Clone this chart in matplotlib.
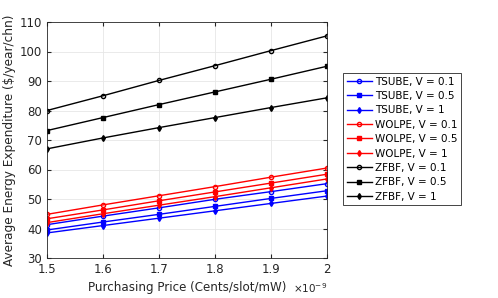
import matplotlib
matplotlib.use("Agg")
import matplotlib.pyplot as plt
import numpy as np

# Purchasing price (x 1e-9)
price = np.array([1.5, 1.6, 1.7, 1.8, 1.9, 2.0])

tsube_01 = [41.3, 44.2, 47.0, 49.9, 52.5, 55.2]
tsube_05 = [39.5, 42.2, 44.8, 47.5, 50.2, 52.8]
tsube_1 = [38.5, 41.0, 43.5, 46.0, 48.5, 51.0]
wolpe_01 = [44.8, 48.0, 51.1, 54.2, 57.4, 60.5]
wolpe_05 = [43.3, 46.3, 49.4, 52.4, 55.4, 58.4]
wolpe_1 = [42.0, 45.0, 47.9, 50.8, 53.8, 56.8]
zfbf_01 = [80.0, 85.0, 90.2, 95.2, 100.3, 105.3]
zfbf_05 = [73.2, 77.6, 82.0, 86.3, 90.6, 95.0]
zfbf_1 = [67.0, 70.7, 74.2, 77.6, 81.0, 84.3]

series = [
    ("TSUBE, V = 0.1", tsube_01, "b", "o"),
    ("TSUBE, V = 0.5", tsube_05, "b", "s"),
    ("TSUBE, V = 1", tsube_1, "b", "d"),
    ("WOLPE, V = 0.1", wolpe_01, "r", "o"),
    ("WOLPE, V = 0.5", wolpe_05, "r", "s"),
    ("WOLPE, V = 1", wolpe_1, "r", "d"),
    ("ZFBF, V = 0.1", zfbf_01, "k", "o"),
    ("ZFBF, V = 0.5", zfbf_05, "k", "s"),
    ("ZFBF, V = 1", zfbf_1, "k", "d"),
]

fig = plt.figure(figsize=(4.98, 2.98), dpi=100)
ax = fig.add_axes([47 / 498, 1 - 258 / 298, 280 / 498, 236 / 298])

for label, vals, c, m in series:
    mfc = "none" if m == "o" else c
    ax.plot(price, vals, color=c, marker=m, markersize=3, markerfacecolor=mfc,
            linewidth=1, label=label)

ax.set_xlim(1.5, 2.0)
ax.set_ylim(30, 110)
ax.set_xticks(price)
ax.set_xticklabels(["1.5", "1.6", "1.7", "1.8", "1.9", "2"])
ax.set_yticks(np.arange(30, 111, 10))
ax.grid(True, color="#e6e6e6", linewidth=0.6)
ax.set_axisbelow(True)
ax.tick_params(labelsize=8.5, direction="in", length=3, top=True, right=True,
               colors="#262626")
for s in ax.spines.values():
    s.set_color("#262626")
    s.set_linewidth(0.6)

ax.set_xlabel("Purchasing Price (Cents/slot/mW)", fontsize=8.6, color="#262626",
              labelpad=4)
ax.set_ylabel("Average Energy Expenditure ($/year/chn)", fontsize=8.7,
              color="#262626", labelpad=3)
# exponent label, next to the x label at the right end of the axis
fig.text(293 / 498, 1 - 288 / 298, r"$\times10^{-9}$", fontsize=7.5,
         ha="left", va="center", color="#262626")

leg = ax.legend(loc="upper left", bbox_to_anchor=(343 / 498, 1 - 73 / 298),
                bbox_transform=fig.transFigure, borderaxespad=0, fontsize=7.5,
                fancybox=False, framealpha=1, edgecolor="#262626",
                handlelength=2.4, borderpad=0.35, labelspacing=0.42,
                handletextpad=0.3)
leg.get_frame().set_linewidth(0.6)

fig.savefig("out.png", dpi=100)
